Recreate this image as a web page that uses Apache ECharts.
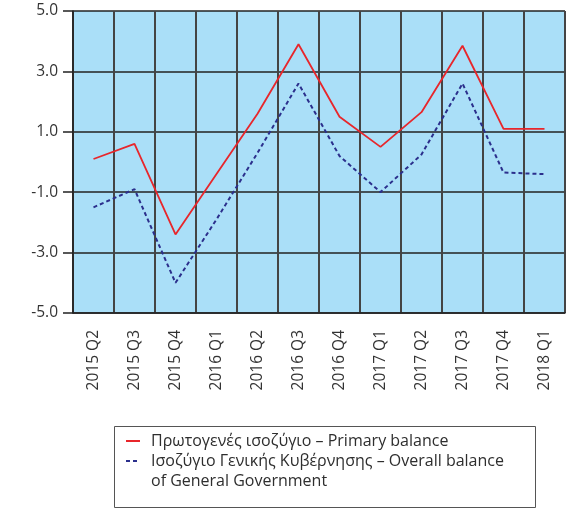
<!DOCTYPE html>
<html>
<head>
<meta charset="utf-8">
<script src="https://cdn.jsdelivr.net/npm/echarts@6/dist/echarts.min.js"></script>
<style>
  html, body { margin: 0; padding: 0; background: #fff; }
  #chart { width: 585px; height: 513px; }
</style>
</head>
<body>
<div id="chart"></div>
<script>
// categories (quarters)
var quarters = ['2015 Q2', '2015 Q3', '2015 Q4', '2016 Q1', '2016 Q2', '2016 Q3',
  '2016 Q4', '2017 Q1', '2017 Q2', '2017 Q3', '2017 Q4', '2018 Q1'];
// series values, % of GDP
var primaryBalance = [0.1, 0.6, -2.4, -0.4, 1.6, 3.9, 1.5, 0.5, 1.65, 3.85, 1.1, 1.1];
var overallBalance = [-1.5, -0.9, -4.0, -1.9, 0.3, 2.6, 0.2, -1.0, 0.25, 2.6, -0.35, -0.4];
var seriesNames = ['Πρωτογενές ισοζύγιο – Primary balance',
  'Ισοζύγιο Γενικής Κυβέρνησης – Overall balance of General Government'];
// legend text: second entry wraps, its tail goes on its own line
var legendLabels = ['Πρωτογενές ισοζύγιο – Primary balance',
  'Ισοζύγιο Γενικής Κυβέρνησης – Overall balance'];
var legendWrap = 'of General Government';

var font = '"Open Sans", sans-serif';
var myChart = echarts.init(document.getElementById('chart'));

// one legend per series, so each can be placed exactly
function makeLegend(i, top) {
  return {
    left: 125,
    top: top,
    padding: 0,
    itemGap: 0,
    itemWidth: 14,
    itemHeight: 10,
    data: [seriesNames[i]],
    itemStyle: { opacity: 0 },
    formatter: function () { return legendLabels[i]; },
    textStyle: {
      fontFamily: font,
      fontSize: 16,
      lineHeight: 20,
      color: '#2e2e2e',
      padding: [0, 0, 0, 6]
    }
  };
}

var option = {
  animation: false,
  grid: {
    left: 73,
    right: 20,
    top: 11,
    bottom: 200,
    show: true,
    backgroundColor: '#aadff8',
    borderWidth: 0
  },
  legend: [
    makeLegend(0, 431),
    makeLegend(1, 451)
  ],
  graphic: [{
    type: 'rect',
    left: 112,
    top: 424,
    shape: { width: 421, height: 81 },
    style: { fill: 'none', stroke: '#555', lineWidth: 1 }
  }, {
    type: 'text',
    left: 151,
    top: 471,
    style: {
      text: legendWrap,
      fontFamily: font,
      fontSize: 16,
      lineHeight: 20,
      fill: '#2e2e2e'
    }
  }],
  xAxis: {
    type: 'category',
    data: quarters,
    boundaryGap: true,
    axisLine: { onZero: false, lineStyle: { color: '#222', width: 1.5 } },
    axisTick: { show: false },
    axisLabel: {
      rotate: 90,
      margin: 17,
      fontFamily: font,
      fontSize: 15.5,
      color: '#333'
    },
    splitLine: {
      show: true,
      interval: 0,
      lineStyle: { color: '#444', width: 2 }
    }
  },
  yAxis: {
    type: 'value',
    min: -5,
    max: 5,
    interval: 2,
    axisLine: { show: true, lineStyle: { color: '#222', width: 1.5 } },
    axisTick: { show: true, inside: false, length: 10, lineStyle: { color: '#222', width: 1.5 } },
    axisLabel: {
      margin: 15,
      fontFamily: font,
      fontSize: 15.5,
      color: '#333',
      formatter: function (v) { return v.toFixed(1); }
    },
    splitLine: {
      show: true,
      lineStyle: { color: '#222', width: 1.5 }
    }
  },
  series: [
    {
      name: seriesNames[0],
      type: 'line',
      data: primaryBalance,
      symbol: 'none',
      color: '#e8262b',
      lineStyle: { color: '#e8262b', width: 1.8 }
    },
    {
      name: seriesNames[1],
      type: 'line',
      data: overallBalance,
      symbol: 'none',
      color: '#2b2f8c',
      lineStyle: { color: '#2b2f8c', width: 2, type: [4, 3] }
    }
  ]
};

myChart.setOption(option);
</script>
</body>
</html>
